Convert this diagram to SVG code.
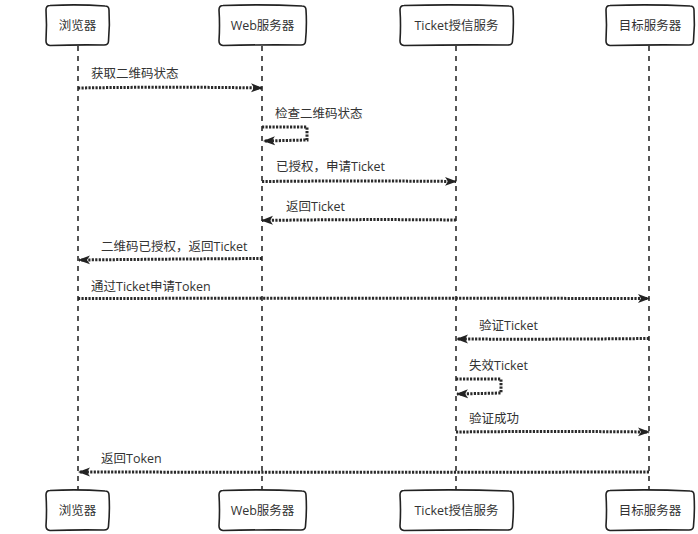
<svg xmlns="http://www.w3.org/2000/svg" width="698" height="534" viewBox="0 0 698 534">
<style>
.box{fill:#fff;stroke:#222;stroke-width:1.6;stroke-linejoin:round}
.life{fill:none;stroke:#444;stroke-width:1.8;stroke-dasharray:5 5}
.msg{fill:none;stroke:#2a2a2a;stroke-width:3;stroke-dasharray:2.2 1.3}
.t{font-family:"Open Sans","Noto Sans CJK SC",sans-serif;font-size:12.5px;fill:#333}
.c{text-anchor:middle}
</style>
<defs>
<marker id="ah" viewBox="0 0 12 10" refX="11" refY="5" markerWidth="12" markerHeight="10" markerUnits="userSpaceOnUse" orient="auto">
<path d="M0,0.5 L12,5 L0,9.5 L3,5 Z" fill="#222"/>
</marker>
</defs>
<rect width="698" height="534" fill="#fff"/>
<g id="lifelines">
<path class="life" d="M78,46 L78,490"/>
<path class="life" d="M262,46 L262,490"/>
<path class="life" d="M456,46 L456,490"/>
<path class="life" d="M649,46 L649,490"/>
</g>
<g id="browser-top"><path class="box" d="M50,5.5 Q78,4 105,6 Q109,6 109,10 Q110,25 108.5,41 Q108.5,45 104,45 Q78,44.5 50,45.5 Q46,45 46,41 Q47,25 46,10 Q46,5.5 50,5.5 Z"/><text class="t c" x="77.5" y="30">浏览器</text></g>
<g id="web-top"><path class="box" d="M223,5.5 Q262,4 302,6 Q306,6 306,10 Q307,25 305.5,41 Q305.5,45 301,45 Q262,44.5 223,45.5 Q219,45 219,41 Q220,25 219,10 Q219,5.5 223,5.5 Z"/><text class="t c" x="262.5" y="30">Web服务器</text></g>
<g id="ticket-top"><path class="box" d="M404,5.5 Q456,4 509,6 Q513,6 513,10 Q514,25 512.5,41 Q512.5,45 508,45 Q456,44.5 404,45.5 Q400,45 400,41 Q401,25 400,10 Q400,5.5 404,5.5 Z"/><text class="t c" x="456.5" y="30">Ticket授信服务</text></g>
<g id="target-top"><path class="box" d="M610,5.5 Q650,4 690,6 Q694,6 694,10 Q695,25 693.5,41 Q693.5,45 689,45 Q650,44.5 610,45.5 Q606,45 606,41 Q607,25 606,10 Q606,5.5 610,5.5 Z"/><text class="t c" x="650" y="30">目标服务器</text></g>
<g id="browser-bottom"><path class="box" d="M50,490.5 Q78,489 105,491 Q109,491 109,495 Q110,510 108.5,526 Q108.5,530 104,530 Q78,529.5 50,530.5 Q46,530 46,526 Q47,510 46,495 Q46,490.5 50,490.5 Z"/><text class="t c" x="77.5" y="515">浏览器</text></g>
<g id="web-bottom"><path class="box" d="M223,490.5 Q262,489 302,491 Q306,491 306,495 Q307,510 305.5,526 Q305.5,530 301,530 Q262,529.5 223,530.5 Q219,530 219,526 Q220,510 219,495 Q219,490.5 223,490.5 Z"/><text class="t c" x="262.5" y="515">Web服务器</text></g>
<g id="ticket-bottom"><path class="box" d="M404,490.5 Q456,489 509,491 Q513,491 513,495 Q514,510 512.5,526 Q512.5,530 508,530 Q456,529.5 404,530.5 Q400,530 400,526 Q401,510 400,495 Q400,490.5 404,490.5 Z"/><text class="t c" x="456.5" y="515">Ticket授信服务</text></g>
<g id="target-bottom"><path class="box" d="M610,490.5 Q650,489 690,491 Q694,491 694,495 Q695,510 693.5,526 Q693.5,530 689,530 Q650,529.5 610,530.5 Q606,530 606,526 Q607,510 606,495 Q606,490.5 610,490.5 Z"/><text class="t c" x="650" y="515">目标服务器</text></g>
<g id="connectors">
<path class="msg" marker-end="url(#ah)" d="M78,88 Q170,86.5 262,88"/>
<path class="msg" marker-end="url(#ah)" d="M262,127 L307,127 L307,140 L264,141"/>
<path class="msg" marker-end="url(#ah)" d="M262,181.5 Q360,180.5 456,181.5"/>
<path class="msg" marker-end="url(#ah)" d="M456,220 Q360,219 262,220.5"/>
<path class="msg" marker-end="url(#ah)" d="M262,258.5 Q170,259 79,260"/>
<path class="msg" marker-end="url(#ah)" d="M78,298.5 Q360,298 649,298.5"/>
<path class="msg" marker-end="url(#ah)" d="M649,338.5 Q550,339.5 457,339"/>
<path class="msg" marker-end="url(#ah)" d="M456,379 L501,379 L501,393 L457,394"/>
<path class="msg" marker-end="url(#ah)" d="M456,432 Q550,431 649,432"/>
<path class="msg" marker-end="url(#ah)" d="M649,472 Q360,472.5 79,472"/>
</g>
<g id="labels">
<text class="t" x="91" y="78">获取二维码状态</text>
<text class="t" x="275" y="118">检查二维码状态</text>
<text class="t" x="276" y="171">已授权，申请Ticket</text>
<text class="t" x="286" y="211">返回Ticket</text>
<text class="t" x="101" y="251">二维码已授权，返回Ticket</text>
<text class="t" x="91" y="291">通过Ticket申请Token</text>
<text class="t" x="479" y="330">验证Ticket</text>
<text class="t" x="469" y="370">失效Ticket</text>
<text class="t" x="469" y="423">验证成功</text>
<text class="t" x="101" y="463">返回Token</text>
</g>
</svg>
